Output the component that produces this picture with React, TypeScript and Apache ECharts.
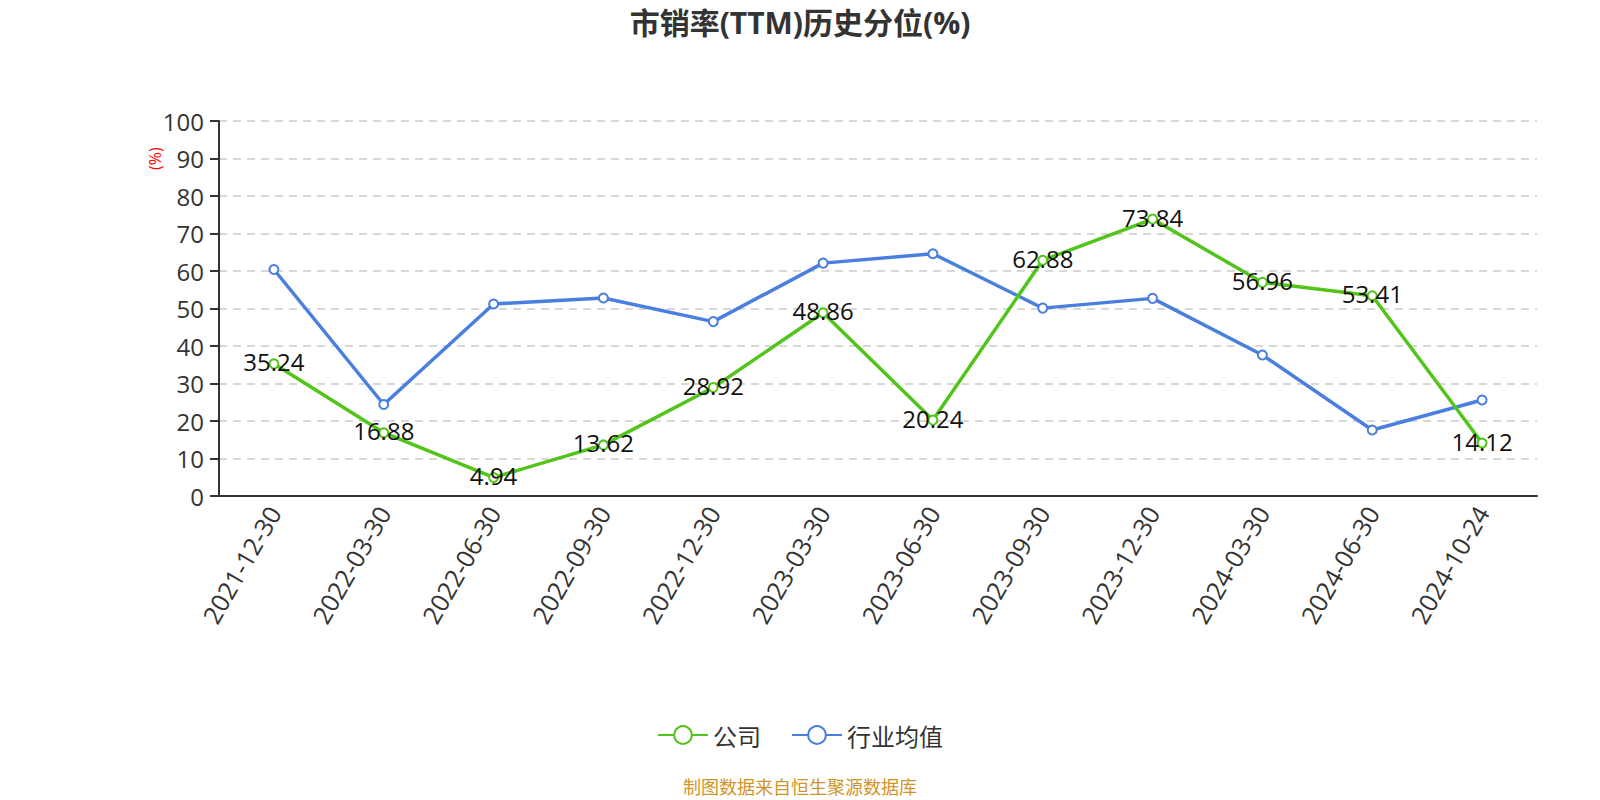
import React, { useEffect, useRef } from "react";
import * as echarts from "echarts";

const categories = ["2021-12-30", "2022-03-30", "2022-06-30", "2022-09-30", "2022-12-30", "2023-03-30", "2023-06-30", "2023-09-30", "2023-12-30", "2024-03-30", "2024-06-30", "2024-10-24"];
const companyValues = [35.24, 16.88, 4.94, 13.62, 28.92, 48.86, 20.24, 62.88, 73.84, 56.96, 53.41, 14.12];
const industryValues = [60.4, 24.4, 51.2, 52.8, 46.5, 62.1, 64.6, 50.1, 52.7, 37.6, 17.6, 25.6];
const yTicks = { min: 0, max: 100, interval: 10 };

const FONT = "'Open Sans', 'Noto Sans CJK SC', sans-serif";
const CJK = "'Noto Sans CJK SC', sans-serif";

export default function App() {
  const ref = useRef<HTMLDivElement>(null);
  useEffect(() => {
    const chart = echarts.init(ref.current!, null, { renderer: "svg" });
    chart.setOption({
      animation: false,
      textStyle: { fontFamily: FONT },
      title: {
        text: "市销率(TTM)历史分位(%)",
        left: "center",
        top: 2,
        textStyle: { fontSize: 30, fontWeight: "bold", color: "#333", fontFamily: FONT },
      },
      grid: { left: 219, right: 63, top: 121, bottom: 304 },
      legend: {
        bottom: 48,
        left: "center",
        itemWidth: 50,
        itemHeight: 22,
        itemGap: 30,
        textStyle: { fontSize: 24, color: "#333", fontFamily: CJK },
        data: ["公司", "行业均值"],
      },
      xAxis: {
        type: "category",
        data: categories,
        boundaryGap: true,
        axisLine: { lineStyle: { color: "#333", width: 2 } },
        axisTick: { length: 8, lineStyle: { color: "#333", width: 2 } },
        axisLabel: { rotate: 60, fontSize: 25, color: "#333", fontFamily: FONT, margin: 12 },
      },
      yAxis: {
        type: "value",
        min: yTicks.min,
        max: yTicks.max,
        interval: yTicks.interval,
        axisLine: { show: true, lineStyle: { color: "#333", width: 2 } },
        axisTick: { show: true, length: 9, lineStyle: { color: "#333", width: 2 } },
        axisLabel: { fontSize: 24, color: "#333", fontFamily: FONT, margin: 15 },
        splitLine: { lineStyle: { type: [8, 6], color: "#ccc", width: 1.5 } },
      },
      graphic: [
        {
          type: "text",
          x: 147,
          y: 170,
          rotation: Math.PI / 2,
          style: { text: "(%)", fill: "red", fontSize: 16, fontFamily: FONT },
        },
        {
          type: "text",
          left: "center",
          top: 777,
          style: { text: "制图数据来自恒生聚源数据库", fill: "#d0952a", fontSize: 18, fontFamily: CJK },
        },
      ],
      series: [
        {
          name: "公司",
          type: "line",
          data: companyValues,
          symbol: "emptyCircle",
          symbolSize: 9,
          itemStyle: { color: "#52c41a", borderWidth: 2 },
          lineStyle: { width: 3.5, color: "#52c41a" },
          label: { show: true, position: "inside", offset: [0, -2], fontSize: 24, color: "#111", fontFamily: FONT },
          z: 3,
        },
        {
          name: "行业均值",
          type: "line",
          data: industryValues,
          symbol: "emptyCircle",
          symbolSize: 9,
          itemStyle: { color: "#4a7fe0", borderWidth: 2 },
          lineStyle: { width: 3.5, color: "#4a7fe0" },
          z: 2,
        },
      ],
    });
    return () => chart.dispose();
  }, []);
  return <div ref={ref} style={{ width: 1600, height: 800, marginLeft: -8, marginTop: -8 }} />;
}
